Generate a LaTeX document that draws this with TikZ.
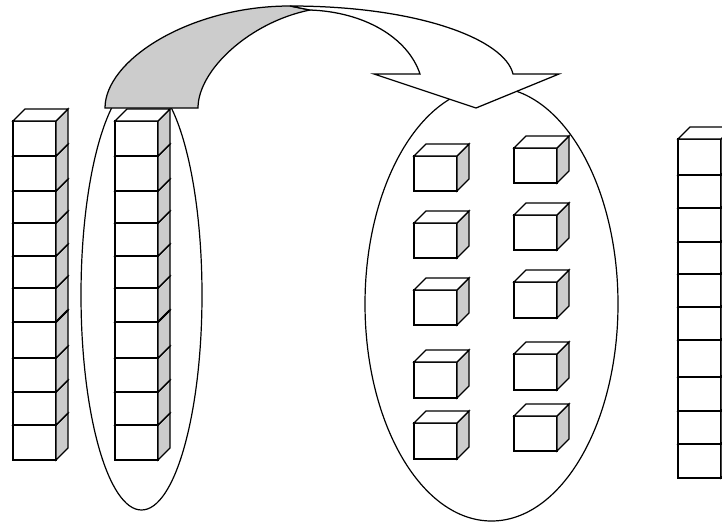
\documentclass[tikz,border=0pt]{standalone}
\definecolor{sidegrey}{RGB}{204,204,204}

\tikzset{
  outline/.style={draw=black, line width=1.25pt},
  cubeface/.style={outline, fill=white},
  cubeside/.style={outline, fill=sidegrey},
  ring/.style={draw=black, line width=1.2pt},
  bandshade/.style={outline, fill=sidegrey},
  bandfront/.style={outline, fill=white},
  seam/.style={draw=black, line width=1.9pt}
}

% one unit cube: left x, front-top y, front-bottom y, front width
\newcommand{\drawcube}[4]{%
  \path[cubeface] (#1,#2) rectangle ({#1+#4},#3);
  \path[cubeside] ({#1+#4},#2) -- ({#1+#4+12},{#2-12}) -- ({#1+#4+12},{#3-12}) -- ({#1+#4},#3) -- cycle;
  \path[cubeface] (#1,#2) -- ({#1+12},{#2-12}) -- ({#1+#4+12},{#2-12}) -- ({#1+#4},#2) -- cycle;
}

\begin{document}
\begin{tikzpicture}[x=1pt,y=-1pt]
\useasboundingbox (0,0) rectangle (722,522);
\clip (0,0) rectangle (722,522);

% groups
\draw[ring] (141.5,295) ellipse [x radius=60.5, y radius=215];
\draw[ring] (491.5,304) ellipse [x radius=126.5, y radius=217];

% left rod of ten
\foreach \t/\b in {425/460,392/425,358/392,322/358,288/322,256/288,223/256,191/223,156/191,121/156}
  {\drawcube{13}{\t}{\b}{43}}
\draw[seam] (13,322) -- (56,322) -- (68,310);

% rod of ten inside the left group
\foreach \t/\b in {425/460,392/425,358/392,322/358,288/322,256/288,223/256,191/223,156/191,121/156}
  {\drawcube{115}{\t}{\b}{43}}
\draw[seam] (115,322) -- (158,322) -- (170,310);

% rod of ten at the right edge
\foreach \t/\b in {444/478,411/444,377/411,340/377,307/340,274/307,242/274,208/242,175/208,139/175}
  {\drawcube{678}{\t}{\b}{43}}
\draw[seam] (678,340) -- (721,340);

% loose unit cubes in the right group
\foreach \t/\b in {156/191,223/258,290/325,362/398,423/459}
  {\drawcube{414}{\t}{\b}{43}}
\foreach \t/\b in {148/183,215/250,282/318,354/390,416/451}
  {\drawcube{514}{\t}{\b}{43}}

% curved arrow: shaded underside
\path[bandshade] (105,108) -- (198,108)
  .. controls (198,70) and (250,22) .. (310,10)
  -- (290,6)
  .. controls (190,6) and (105,60) .. (105,108) -- cycle;

% curved arrow: upper side with head
\path[bandfront] (290,6)
  .. controls (420,6) and (505,40) .. (513,74)
  -- (559,74) -- (476,108) -- (374,74) -- (420,74)
  .. controls (408,38) and (365,12) .. (310,10)
  -- cycle;
\end{tikzpicture}
\end{document}
